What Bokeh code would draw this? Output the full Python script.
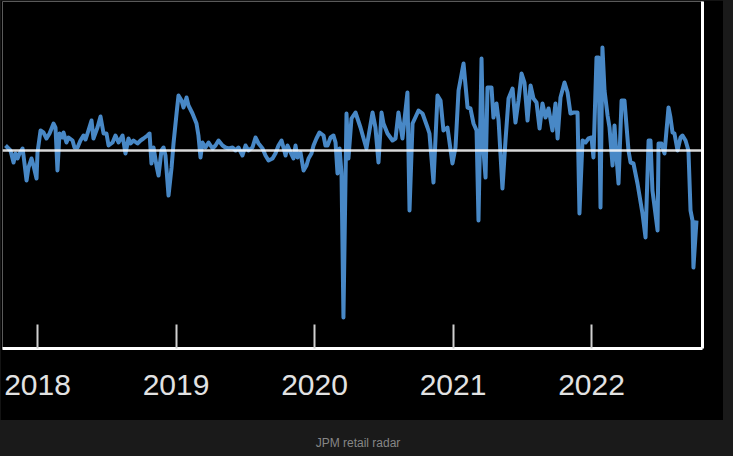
from bokeh.plotting import figure
from bokeh.models import Span, LinearAxis, FixedTicker, Range1d, Div, GlobalInlineStyleSheet
from bokeh.layouts import column
from bokeh.embed import file_html
from bokeh.resources import INLINE

# weekly-ish readings, x in decimal years, y in % (relative to zero line)
years = [
    2017.769, 2017.805, 2017.827, 2017.841, 2017.856, 2017.870, 2017.892, 2017.899, 2017.921, 2017.935,
    2017.957, 2017.971, 2017.993, 2018.000, 2018.022, 2018.043, 2018.065, 2018.087, 2018.116, 2018.130,
    2018.144, 2018.159, 2018.181, 2018.188, 2018.209, 2018.224, 2018.253, 2018.267, 2018.289, 2018.310,
    2018.332, 2018.347, 2018.361, 2018.390, 2018.404, 2018.433, 2018.455, 2018.477, 2018.498, 2018.513,
    2018.542, 2018.563, 2018.585, 2018.614, 2018.635, 2018.657, 2018.671, 2018.693, 2018.722, 2018.744,
    2018.765, 2018.794, 2018.809, 2018.823, 2018.838, 2018.859, 2018.874, 2018.895, 2018.910, 2018.924,
    2018.946, 2018.968, 2018.982, 2019.004, 2019.018, 2019.040, 2019.054, 2019.076, 2019.090, 2019.119,
    2019.148, 2019.162, 2019.177, 2019.191, 2019.213, 2019.235, 2019.264, 2019.285, 2019.307, 2019.336,
    2019.357, 2019.379, 2019.408, 2019.430, 2019.451, 2019.480, 2019.502, 2019.523, 2019.552, 2019.574,
    2019.596, 2019.625, 2019.646, 2019.668, 2019.697, 2019.718, 2019.740, 2019.762, 2019.776, 2019.791,
    2019.805, 2019.827, 2019.848, 2019.863, 2019.877, 2019.899, 2019.921, 2019.942, 2019.957, 2019.978,
    2019.993, 2020.014, 2020.036, 2020.065, 2020.079, 2020.094, 2020.116, 2020.137, 2020.152, 2020.166,
    2020.181, 2020.195, 2020.209, 2020.231, 2020.245, 2020.267, 2020.296, 2020.332, 2020.375, 2020.419,
    2020.440, 2020.462, 2020.484, 2020.498, 2020.527, 2020.563, 2020.585, 2020.606, 2020.635, 2020.671,
    2020.686, 2020.708, 2020.751, 2020.780, 2020.816, 2020.830, 2020.859, 2020.888, 2020.910, 2020.931,
    2020.960, 2020.996, 2021.018, 2021.040, 2021.076, 2021.105, 2021.126, 2021.148, 2021.170, 2021.184,
    2021.206, 2021.220, 2021.235, 2021.249, 2021.278, 2021.292, 2021.314, 2021.329, 2021.357, 2021.379,
    2021.401, 2021.430, 2021.451, 2021.473, 2021.495, 2021.516, 2021.538, 2021.560, 2021.581, 2021.603,
    2021.625, 2021.646, 2021.668, 2021.690, 2021.718, 2021.740, 2021.755, 2021.776, 2021.805, 2021.827,
    2021.848, 2021.870, 2021.899, 2021.913, 2021.935, 2021.957, 2021.978, 2022.000, 2022.014, 2022.036,
    2022.051, 2022.065, 2022.079, 2022.094, 2022.116, 2022.130, 2022.152, 2022.166, 2022.181, 2022.195,
    2022.217, 2022.238, 2022.267, 2022.282, 2022.303, 2022.332, 2022.368, 2022.390, 2022.412, 2022.426,
    2022.440, 2022.477, 2022.484, 2022.505, 2022.527, 2022.556, 2022.570, 2022.585, 2022.599, 2022.621,
    2022.643, 2022.657, 2022.679, 2022.700, 2022.715, 2022.729, 2022.736, 2022.758,
]
values = [
    0.5, 0.0, -1.2, -0.3, -0.8, -0.3, 0.2, -0.5, -3.0, -1.7,
    -0.8, -1.5, -2.8, -0.2, 2.0, 1.8, 1.2, 1.7, 2.7, 2.3,
    -2.0, 1.7, 1.3, 1.8, 0.8, 1.3, 1.0, 0.3, 0.3, 1.0,
    1.5, 1.1, 1.7, 3.0, 1.2, 2.3, 3.4, 1.7, 1.7, 0.5,
    0.8, 1.5, 0.8, 1.5, -0.3, 1.2, 0.7, 1.0, 0.7, 1.0,
    1.2, 1.5, 1.7, -1.3, 0.3, -1.5, -2.5, 0.0, 0.3, -0.5,
    -4.5, -1.7, 0.7, 3.7, 5.5, 5.0, 4.3, 5.3, 4.5, 3.7,
    2.7, 1.5, -0.7, 0.8, 0.3, 0.8, 0.2, 0.5, 1.0, 0.5,
    0.3, 0.2, 0.3, 0.0, 0.3, -0.5, 0.5, 0.0, 0.3, 1.3,
    0.7, 0.2, -0.5, -1.0, -0.8, -0.3, 0.5, 1.0, 0.3, -0.5,
    0.5, -0.2, -0.8, 0.5, -0.7, -0.2, -2.0, -1.5, -0.8, -0.3,
    0.5, 1.2, 1.8, 1.5, 0.5, 0.5, 1.3, 1.5, 0.8, -2.3,
    0.2, -2.3, -16.7, 3.7, -0.8, 3.2, 3.8, 2.3, 0.2, 3.8,
    2.3, -1.2, 3.8, 2.7, 1.7, 1.0, 1.2, 3.8, 1.2, 5.8,
    -6.0, 2.7, 4.0, 3.7, 2.3, 1.7, -3.2, 5.5, 5.0, 2.0,
    2.3, -1.3, 0.3, 6.0, 8.7, 4.3, 4.2, 2.7, 2.0, -7.0,
    9.2, 0.0, -2.7, 6.3, 6.3, 3.3, 4.7, 3.0, -3.8, 1.0,
    5.2, 6.2, 2.8, 5.0, 7.7, 6.8, 3.0, 6.5, 5.2, 4.8,
    2.2, 4.7, 3.3, 4.2, 2.0, 4.7, 1.2, 5.3, 6.8, 5.8,
    3.7, 3.8, 3.8, -6.3, 1.0, 0.8, 1.2, 1.3, -0.7, 9.3,
    9.3, -5.7, 10.3, 6.0, 3.5, 2.3, -1.5, 2.5, -0.7, -3.3,
    5.0, 5.0, 0.0, -1.2, -1.3, -3.3, -6.3, -8.7, 1.0, 1.0,
    -4.0, -8.0, 0.7, 0.7, -0.3, 4.3, 3.3, 1.8, 1.7, 0.0,
    1.3, 1.5, 1.0, 0.0, -6.0, -7.0, -11.7, -7.0,
]
tick_years = [2018, 2019, 2020, 2021, 2022]
tick_labels = ["2018", "2019", "2020", "2021", "2022"]
caption = "JPM retail radar"

p = figure(width=723, height=420, output_backend="svg", toolbar_location=None,
           x_range=Range1d(2017.7473, 2022.8014), y_range=Range1d(-19.8, 14.9),
           y_axis_location=None, background_fill_color="black", border_fill_color="black",
           min_border_left=2, min_border_right=21, min_border_top=1, min_border_bottom=72)
p.outline_line_color = "#5a5a5a"
p.outline_line_width = 1
p.grid.visible = False

p.line(years, values, line_color="#4888c6", line_width=4, line_join="round")

zero = Span(location=0, dimension="width", line_color="white", line_alpha=0.85, line_width=2.5)
p.add_layout(zero)

ax = p.xaxis[0]
ax.ticker = FixedTicker(ticks=tick_years)
ax.major_label_overrides = {yr: lab for yr, lab in zip(tick_years, tick_labels)}
ax.axis_line_color = "white"
ax.axis_line_width = 3
ax.major_tick_in = 24
ax.major_tick_out = 0
ax.major_tick_line_color = "#d0d0d0"
ax.major_tick_line_width = 2
ax.minor_tick_line_color = None
ax.major_label_text_font = "Liberation Sans"
ax.major_label_text_font_size = "30px"
ax.major_label_text_color = "#e2e2e2"
ax.major_label_standoff = 26

ra = LinearAxis(ticker=FixedTicker(ticks=[]), axis_line_color="white", axis_line_width=3,
                major_tick_line_color=None, minor_tick_line_color=None,
                major_label_text_font_size="0px")
p.add_layout(ra, "right")

div = Div(text=caption, width=706, height=36,
          styles={"text-align": "center", "color": "#868686", "font-family": "Liberation Sans, Arial, sans-serif",
                  "font-size": "12px", "line-height": "36px", "background-color": "#1a1a1a"})

layout = column(p, div, spacing=0,
                stylesheets=[GlobalInlineStyleSheet(css="html, body { margin: 0; padding: 0; background: #1a1a1a; }")])

open("out.html", "w").write(file_html(layout, INLINE))
